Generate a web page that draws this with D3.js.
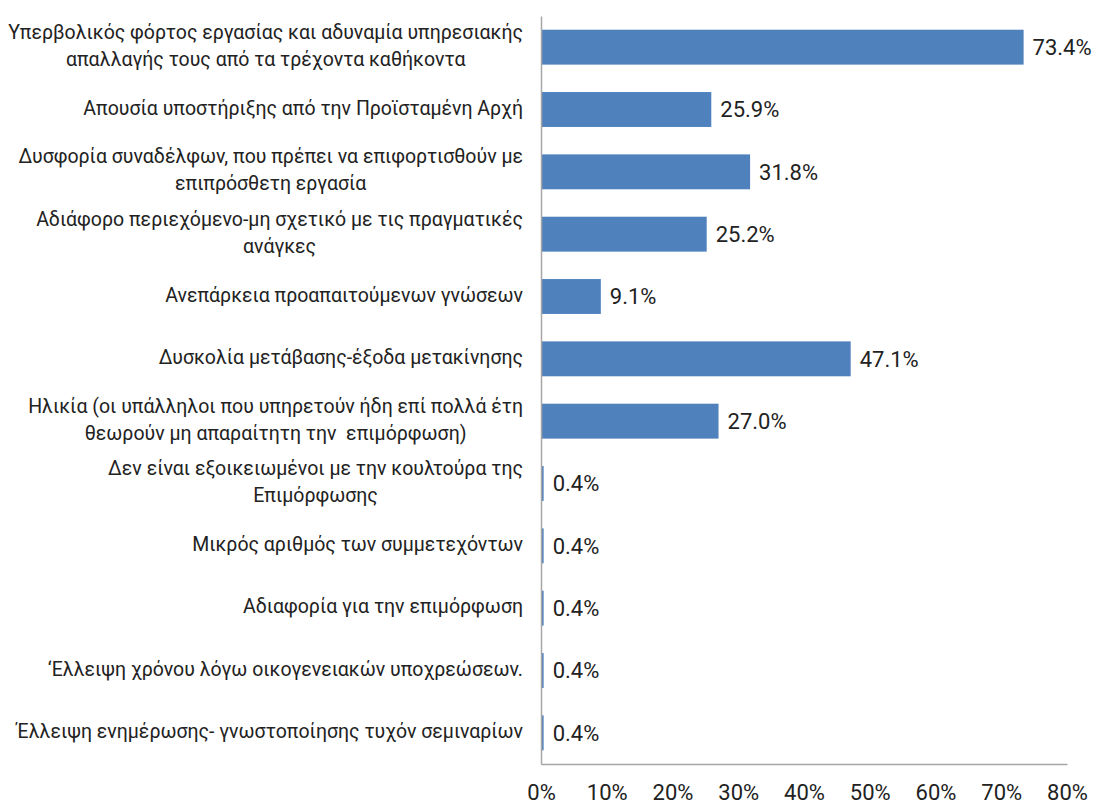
<!DOCTYPE html>
<html>
<head>
<meta charset="utf-8">
<script src="https://cdn.jsdelivr.net/npm/d3@7"></script>
<style>
  html, body { margin: 0; padding: 0; background: #ffffff; }
  svg { display: block; }
  text { font-family: Roboto, "Open Sans", sans-serif; fill: #222222; }
</style>
</head>
<body>
<svg id="chart" width="1097" height="806"></svg>
<script>
// Reasons for not attending training programmes (share of respondents, %)
const categories = [
  ["Υπερβολικός φόρτος εργασίας και αδυναμία υπηρεσιακής", "απαλλαγής τους από τα τρέχοντα καθήκοντα"],
  ["Απουσία υποστήριξης από την Προϊσταμένη Αρχή"],
  ["Δυσφορία συναδέλφων, που πρέπει να επιφορτισθούν με", "επιπρόσθετη εργασία"],
  ["Αδιάφορο περιεχόμενο-μη σχετικό με τις πραγματικές", "ανάγκες"],
  ["Ανεπάρκεια προαπαιτούμενων γνώσεων"],
  ["Δυσκολία μετάβασης-έξοδα μετακίνησης"],
  ["Ηλικία (οι υπάλληλοι που υπηρετούν ήδη επί πολλά έτη", "θεωρούν μη απαραίτητη την\u00a0 επιμόρφωση)"],
  ["Δεν είναι εξοικειωμένοι με την κουλτούρα της", "Επιμόρφωσης"],
  ["Μικρός αριθμός των συμμετεχόντων"],
  ["Αδιαφορία για την επιμόρφωση"],
  ["‘Ελλειψη χρόνου λόγω οικογενειακών υποχρεώσεων."],
  ["Έλλειψη ενημέρωσης- γνωστοποίησης τυχόν σεμιναρίων"]
];
const values = [73.4, 25.9, 31.8, 25.2, 9.1, 47.1, 27.0, 0.4, 0.4, 0.4, 0.4, 0.4];
const xTicks = [0, 10, 20, 30, 40, 50, 60, 70, 80];

const svg = d3.select("#chart");
const margin = { top: 16, left: 541, right: 30, bottom: 42 };
const W = 1097, H = 806;
const labelSize = 19.5;
const numberSize = 22;

const x = d3.scaleLinear().domain([0, 80]).range([margin.left, W - margin.right]);
const y = d3.scaleBand()
  .domain(d3.range(categories.length))
  .range([margin.top, H - margin.bottom])
  .paddingInner(0.44)
  .paddingOuter(0.22);

// Bars
svg.append("g")
  .selectAll("rect")
  .data(values)
  .join("rect")
  .attr("x", x(0))
  .attr("y", (d, i) => y(i))
  .attr("width", d => x(d) - x(0))
  .attr("height", y.bandwidth())
  .attr("fill", "#4f81bd");

// Value labels
svg.append("g")
  .selectAll("text")
  .data(values)
  .join("text")
  .attr("x", d => x(d) + 9)
  .attr("y", (d, i) => y(i) + y.bandwidth() / 2)
  .attr("dy", "0.36em")
  .style("font-size", numberSize + "px")
  .text(d => d.toFixed(1) + "%");

// Category labels: wrapped lines centred on the widest line, block right-aligned
const labelRight = 523;
const lineH = 27;
const labelG = svg.append("g");
categories.forEach((lines, i) => {
  const cy = y(i) + y.bandwidth() / 2 - 2;
  const g = labelG.append("g");
  const texts = lines.map((ln, k) => g.append("text")
    .attr("y", cy + (k - (lines.length - 1) / 2) * lineH)
    .attr("dy", "0.36em")
    .attr("text-anchor", "middle")
    .style("font-size", labelSize + "px")
    .text(ln));
  const maxW = d3.max(texts, t => t.node().getComputedTextLength());
  texts.forEach(t => t.attr("x", labelRight - maxW / 2));
});

// Bottom axis
const xAxis = d3.axisBottom(x)
  .tickValues(xTicks)
  .tickFormat(d => d + "%")
  .tickSizeInner(0)
  .tickSizeOuter(0)
  .tickPadding(20);
const gx = svg.append("g")
  .attr("transform", `translate(0,${H - margin.bottom})`)
  .call(xAxis);
gx.select(".domain").attr("stroke", "#a6a6a6").attr("stroke-width", 1.5);
gx.selectAll("text")
  .style("font-size", numberSize + "px")
  .style("font-family", "Roboto, 'Open Sans', sans-serif")
  .attr("fill", "#222222");

// Left axis line (no ticks)
const gy = svg.append("g")
  .attr("transform", `translate(${margin.left},0)`)
  .call(d3.axisLeft(y).tickValues([]).tickSizeOuter(0));
gy.select(".domain").attr("stroke", "#a6a6a6").attr("stroke-width", 1.5);
</script>
</body>
</html>
